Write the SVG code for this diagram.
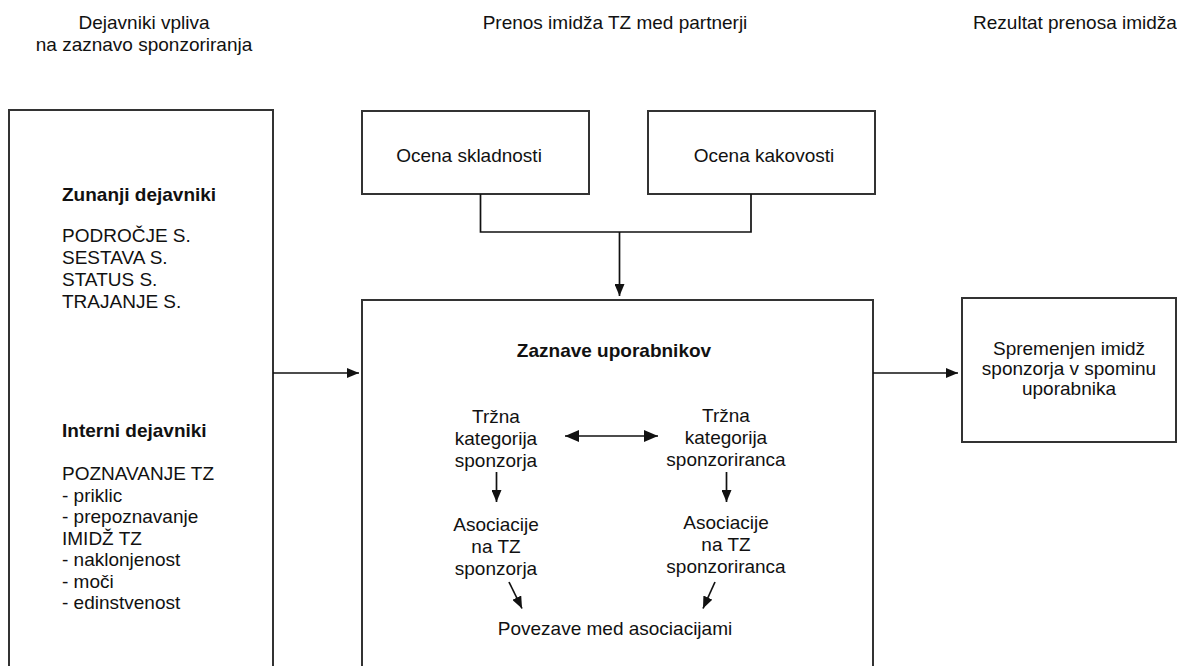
<svg xmlns="http://www.w3.org/2000/svg" width="1177" height="666" viewBox="0 0 1177 666">
<style>
text{font-family:"Liberation Sans",Arial,sans-serif;font-size:19px;fill:#111}
.b{font-weight:bold}
.m{text-anchor:middle}
.box{fill:#fff;stroke:#333;stroke-width:2}
.ln{fill:none;stroke:#111;stroke-width:1.7}
</style>
<defs>
<marker id="ah" viewBox="0 0 12 10" refX="12" refY="5" markerWidth="12" markerHeight="10" markerUnits="userSpaceOnUse" orient="auto-start-reverse">
<path d="M0,0 L12,5 L0,10 z" fill="#111"/>
</marker>
<marker id="ahl" viewBox="0 0 14 12" refX="14" refY="6" markerWidth="14" markerHeight="12" markerUnits="userSpaceOnUse" orient="auto-start-reverse">
<path d="M0,0 L14,6 L0,12 z" fill="#111"/>
</marker>
</defs>
<g id="headers">
<text class="m" x="144" y="29">Dejavniki vpliva</text>
<text class="m" x="144" y="51">na zaznavo sponzoriranja</text>
<text class="m" x="615" y="29">Prenos imidža TZ med partnerji</text>
<text class="m" x="1075" y="29">Rezultat prenosa imidža</text>
</g>
<g id="left-box">
<rect class="box" x="9" y="110" width="264" height="570"/>
<text class="b" x="62" y="201">Zunanji dejavniki</text>
<text x="62" y="242">PODROČJE S.</text>
<text x="62" y="264">SESTAVA S.</text>
<text x="62" y="286">STATUS S.</text>
<text x="62" y="308">TRAJANJE S.</text>
<text class="b" x="62" y="437">Interni dejavniki</text>
<text x="62" y="480">POZNAVANJE TZ</text>
<text x="62" y="501.5">- priklic</text>
<text x="62" y="523">- prepoznavanje</text>
<text x="62" y="544.5">IMIDŽ TZ</text>
<text x="62" y="566">- naklonjenost</text>
<text x="62" y="587.5">- moči</text>
<text x="62" y="609">- edinstvenost</text>
</g>
<g id="ocena-skladnosti">
<rect class="box" x="362" y="111" width="227" height="83"/>
<text class="m" x="469" y="162">Ocena skladnosti</text>
</g>
<g id="ocena-kakovosti">
<rect class="box" x="648" y="111" width="227" height="83"/>
<text class="m" x="764" y="162">Ocena kakovosti</text>
</g>
<g id="center-box">
<rect class="box" x="362" y="300" width="511" height="380"/>
<text class="b m" x="614" y="357">Zaznave uporabnikov</text>
<text class="m" x="496" y="423">Tržna</text>
<text class="m" x="496" y="445">kategorija</text>
<text class="m" x="496" y="467">sponzorja</text>
<text class="m" x="726" y="422">Tržna</text>
<text class="m" x="726" y="444">kategorija</text>
<text class="m" x="726" y="466">sponzoriranca</text>
<text class="m" x="496" y="531">Asociacije</text>
<text class="m" x="496" y="553">na TZ</text>
<text class="m" x="496" y="575">sponzorja</text>
<text class="m" x="726" y="529">Asociacije</text>
<text class="m" x="726" y="551">na TZ</text>
<text class="m" x="726" y="573">sponzoriranca</text>
<text class="m" x="615" y="635">Povezave med asociacijami</text>
</g>
<g id="result-box">
<rect class="box" x="962" y="298" width="214" height="144"/>
<text class="m" x="1069" y="355">Spremenjen imidž</text>
<text class="m" x="1069" y="375">sponzorja v spominu</text>
<text class="m" x="1069" y="394.5">uporabnika</text>
</g>
<g id="connectors">
<path class="ln" d="M480.5,194 V232 H751 V194"/>
<path class="ln" d="M619.5,232 V296" marker-end="url(#ah)"/>
<path class="ln" d="M273,373 H359" marker-end="url(#ah)"/>
<path class="ln" d="M873,373 H958" marker-end="url(#ah)"/>
<path class="ln" d="M565,436 H658" marker-start="url(#ahl)" marker-end="url(#ahl)"/>
<path class="ln" d="M496.5,472 V502" marker-end="url(#ah)"/>
<path class="ln" d="M726.5,472 V502" marker-end="url(#ah)"/>
<path class="ln" d="M509,582 L522,608.5" marker-end="url(#ah)"/>
<path class="ln" d="M715,582 L703,608.5" marker-end="url(#ah)"/>
</g>
</svg>
